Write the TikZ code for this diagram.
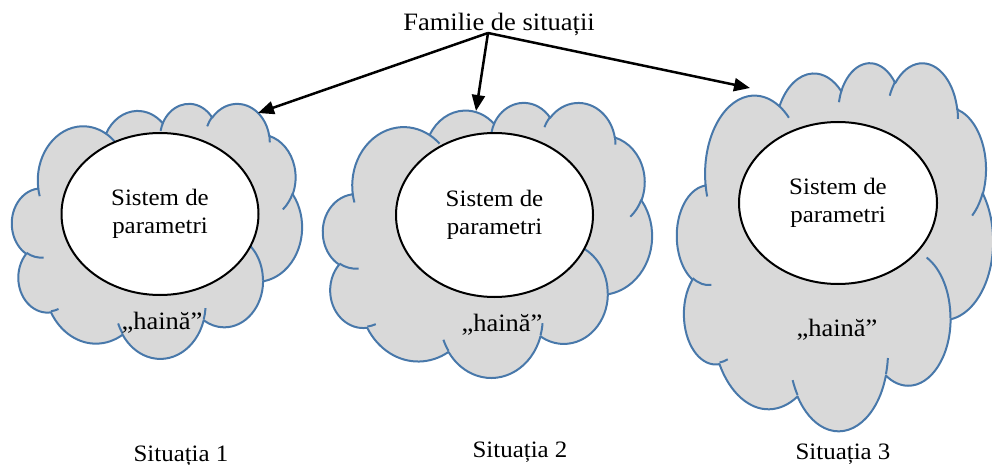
\documentclass[tikz,border=0pt]{standalone}
\usepackage{fontspec}
\setmainfont{Liberation Serif}[FakeStretch=1.06]
\usetikzlibrary{arrows.meta,shapes.geometric}
\definecolor{cloudfill}{RGB}{217,217,217}
\definecolor{cloudline}{RGB}{72,120,170}
\newcommand\carc[4]{arc[x radius=#1, y radius=#2, start angle={atan2((#1)*sin(#3),(#2)*cos(#3))}, delta angle={mod(atan2((#1)*sin((#3)+(#4)),(#2)*cos((#3)+(#4)))-atan2((#1)*sin(#3),(#2)*cos(#3))+720,360)}]}
\newcommand\officecloud[5]{%
  \pgfmathsetmacro\cloudxu{#4/432}%
  \pgfmathsetmacro\cloudyu{#5/432}%
  \begin{scope}[shift={(#2,#3)}, x=\cloudxu pt, y=-\cloudyu pt]
    \filldraw[cloudshape] (39.00,143.70)
      \carc{67.53}{91.90}{-190.48748}{123.78053}
      \carc{53.33}{72.67}{-144.10238}{89.94523}
      \carc{43.65}{59.45}{-145.80792}{99.72302}
      \carc{48.57}{65.95}{-130.98607}{117.24173}
      \carc{53.33}{72.73}{-78.70888}{109.02692}
      \carc{67.75}{92.20}{-46.26725}{130.269}
      \carc{57.85}{78.67}{0.62502}{114.03333}
      \carc{67.52}{92.15}{22.4516}{115.17255}
      \carc{77.20}{105.43}{66.24263}{75.71102}
      \carc{43.60}{59.18}{-274.94208}{146.73557}
      \carc{43.45}{59.45}{-246.8285}{152.51885}
      -- cycle;
    \draw[cloudshape, fill=none]
      (46.93,261.77) \carc{43.45}{59.45}{86.742}{26.4295}
      (69.28,348.99) \carc{43.60}{59.18}{73.6105}{11.4475}
      (164.78,390.90) \carc{67.52}{92.15}{137.62415}{14.0811}
      (288.27,347.51) \carc{67.52}{92.15}{6.45327}{15.99835}
      (341.29,229.54) \carc{57.85}{78.67}{-70.29235}{70.91737}
      (417.98,153.54) \carc{53.33}{72.73}{30.31803}{27.7515}
      (383.24,54.26) \carc{48.57}{65.95}{-13.74433}{14.8589}
      (290.78,39.52) \carc{48.57}{65.95}{-149.18145}{18.19537}
      (221.41,47.20) \carc{43.65}{59.45}{-163.49427}{17.68635}
      (140.00,51.92) \carc{67.53}{91.90}{-66.70695}{12.31935}
      (41.27,157.89) \carc{67.53}{91.90}{157.65435}{11.85817};
    \coordinate (#1) at (216,216);
  \end{scope}}
\tikzset{
  cloudshape/.style={fill=cloudfill, draw=cloudline, line width=2pt, line join=round},
  core/.style={ellipse, draw=black, fill=white, line width=2pt, inner sep=0pt, align=center,
    font=\fontsize{23.5}{28}\selectfont},
  lbl/.style={font=\fontsize{23.5}{28}\selectfont, inner sep=0pt, anchor=base},
  hlbl/.style={lbl, font=\fontsize{25}{28}\selectfont},
  arr/.style={line width=2.5pt, -{Triangle[length=16pt,width=13pt]}}
}
\begin{document}
\begin{tikzpicture}[x=1pt,y=-1pt]
\useasboundingbox (0,0) rectangle (992,465);
% clouds
\officecloud{c1}{12}{103}{290}{255}
\officecloud{c2}{323}{102}{329}{275}
\officecloud{c3}{677}{62}{316}{368}
% inner ellipses
\node[core, minimum width=197pt, minimum height=162pt] (e1) at (160,214) {Sistem de\\parametri};
\node[core, minimum width=197pt, minimum height=164pt] (e2) at (494.5,215) {Sistem de\\parametri};
\node[core, minimum width=198pt, minimum height=162pt] (e3) at (838,203) {Sistem de\\parametri};
% haina labels
\node[hlbl] (h1) at (162,329) {„haină”};
\node[hlbl] (h2) at (502,331) {„haină”};
\node[hlbl] (h3) at (837,336) {„haină”};
% situation labels
\node[lbl] (s1) at (181,461) {Situația 1};
\node[lbl] (s2) at (520,457) {Situația 2};
\node[lbl] (s3) at (843,459) {Situația 3};
% title and arrows
\node[lbl, font=\fontsize{25}{28}\selectfont] (title) at (499,31) {Familie de situații};
\coordinate (src) at (488,33);
\coordinate (t1) at (258,113);
\coordinate (t2) at (476,111);
\coordinate (t3) at (750,88);
\draw[arr] (src) -- (t1);
\draw[arr] (src) -- (t2);
\draw[arr] (src) -- (t3);
\end{tikzpicture}
\end{document}
